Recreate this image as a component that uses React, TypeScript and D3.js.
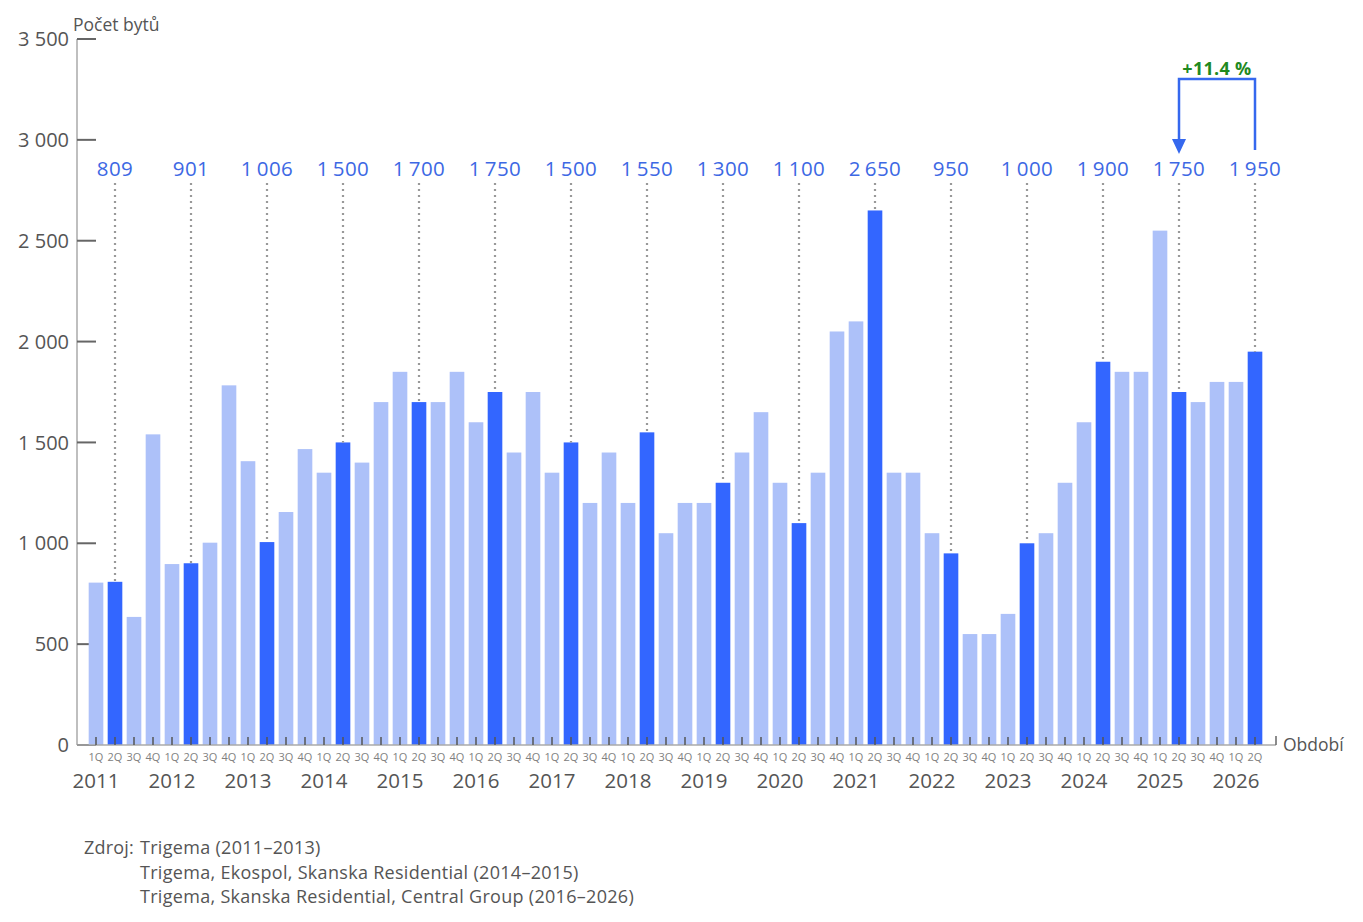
import * as d3 from "d3";

// quarterly number of flats, 2011 1Q .. 2026 2Q
const YEARS = [2011, 2012, 2013, 2014, 2015, 2016, 2017, 2018, 2019, 2020, 2021, 2022, 2023, 2024, 2025, 2026];
const QUARTERS = ["1Q", "2Q", "3Q", "4Q"];
const VALUES = [
  805, 809, 635, 1540,
  897, 901, 1003, 1783,
  1407, 1006, 1155, 1467,
  1350, 1500, 1400, 1700,
  1850, 1700, 1700, 1850,
  1600, 1750, 1450, 1750,
  1350, 1500, 1200, 1450,
  1200, 1550, 1050, 1200,
  1200, 1300, 1450, 1650,
  1300, 1100, 1350, 2050,
  2100, 2650, 1350, 1350,
  1050, 950, 550, 550,
  650, 1000, 1050, 1300,
  1600, 1900, 1850, 1850,
  2550, 1750, 1700, 1800,
  1800, 1950,
];
const Y_TICKS = [0, 500, 1000, 1500, 2000, 2500, 3000, 3500];
const SOURCES = [
  "Trigema (2011–2013)",
  "Trigema, Ekospol, Skanska Residential (2014–2015)",
  "Trigema, Skanska Residential, Central Group (2016–2026)",
];

const FONT = "'Open Sans', 'DejaVu Sans', sans-serif";
const DARK = "#3366ff";
const LIGHT = "#adc1f9";
const LABEL_BLUE = "#3d68e4";

const bars = VALUES.map((v, i) => ({
  key: `${YEARS[Math.floor(i / 4)]}-${QUARTERS[i % 4]}`,
  year: YEARS[Math.floor(i / 4)],
  q: QUARTERS[i % 4],
  v,
}));

const fmt = (n: number, sep: string) =>
  d3.format(",")(n).replace(/,/g, sep);

export default function App() {
  const W = 1363, H = 922;
  const x = d3.scaleBand<string>()
    .domain(bars.map(d => d.key))
    .range([86.5, 1264.5])
    .paddingInner(0.23)
    .paddingOuter(0.115);
  const y = d3.scaleLinear().domain([0, 3500]).range([745, 39]);
  const bw = x.bandwidth();
  const cx = (k: string) => (x(k) ?? 0) + bw / 2;
  const axisL = 77, axisR = 1276, y0 = y(0);

  const hi = bars.filter(d => d.q === "2Q");
  const lastTwo = hi.slice(-2);
  const pct = (lastTwo[1].v / lastTwo[0].v - 1) * 100;
  const ax1 = cx(lastTwo[0].key), ax2 = cx(lastTwo[1].key);
  const labelY = 176;

  return (
    <svg width={W} height={H} style={{ position: "absolute", left: 0, top: 0, background: "#fff" }}
      fontFamily={FONT}>
      {/* y axis */}
      <line x1={axisL} x2={axisL} y1={y(3500)} y2={y0} stroke="#aaa" strokeWidth={1.5} />
      {Y_TICKS.map(t => (
        <g key={t}>
          <line x1={axisL} x2={axisL + 19} y1={y(t)} y2={y(t)} stroke="#666" strokeWidth={2} />
          <text x={69} y={y(t)} dy="0.36em" textAnchor="end" fontSize={20} fill="#555">
            {fmt(t, " ")}
          </text>
        </g>
      ))}
      <text x={73} y={31} fontSize={17.5} fill="#555">Počet bytů</text>

      {/* bars */}
      {bars.map(d => (
        <rect key={d.key} x={x(d.key)} y={y(d.v)} width={bw} height={y0 - y(d.v)}
          fill={d.q === "2Q" ? DARK : LIGHT} />
      ))}

      {/* dotted leaders + value labels for 2Q */}
      {hi.map(d => (
        <g key={d.key}>
          <line x1={cx(d.key)} x2={cx(d.key)} y1={183} y2={y(d.v)} stroke="#999"
            strokeWidth={2.2} strokeDasharray="2 4" />
          <text x={cx(d.key)} y={labelY} textAnchor="middle" fontSize={20.5} fill={LABEL_BLUE}
            letterSpacing={0.4}>
            {fmt(d.v, "\u2009")}
          </text>
        </g>
      ))}

      {/* x axis */}
      <line x1={axisL} x2={axisR} y1={y0} y2={y0} stroke="#aaa" strokeWidth={1.5} />
      <line x1={axisR} x2={axisR} y1={y0 - 9} y2={y0} stroke="#666" strokeWidth={1.5} />
      {bars.map(d => (
        <g key={d.key}>
          <line x1={cx(d.key)} x2={cx(d.key)} y1={y0 - 8} y2={y0} stroke="#555" strokeWidth={1.5} />
          <text x={cx(d.key)} y={761} textAnchor="middle" fontSize={11} fill="#808080">{d.q}</text>
        </g>
      ))}
      {bars.filter(d => d.q === "1Q").map(d => (
        <text key={d.year} x={cx(d.key)} y={788} textAnchor="middle" fontSize={20.5} fill="#555">
          {d.year}
        </text>
      ))}
      <text x={1283} y={751} fontSize={17.5} fill="#555">Období</text>

      {/* change annotation */}
      <path d={`M${ax2},150 V79 H${ax1} V140`} fill="none" stroke="#3568ee" strokeWidth={2.5} />
      <path d={`M${ax1 - 7},139 L${ax1 + 7},139 L${ax1},154 Z`} fill="#3568ee" />
      <text x={(ax1 + ax2) / 2} y={75} textAnchor="middle" fontSize={18} fontWeight={700}
        fill="#1f8a1f" letterSpacing={0.3}>
        {`+${pct.toFixed(1)} %`}
      </text>

      {/* source */}
      <text x={84} y={854} fontSize={18} fill="#555" letterSpacing={0.2}>Zdroj:</text>
      {SOURCES.map((s, i) => (
        <text key={s} x={140} y={854 + i * 24.5} fontSize={18} fill="#555" letterSpacing={0.3}>{s}</text>
      ))}
    </svg>
  );
}
